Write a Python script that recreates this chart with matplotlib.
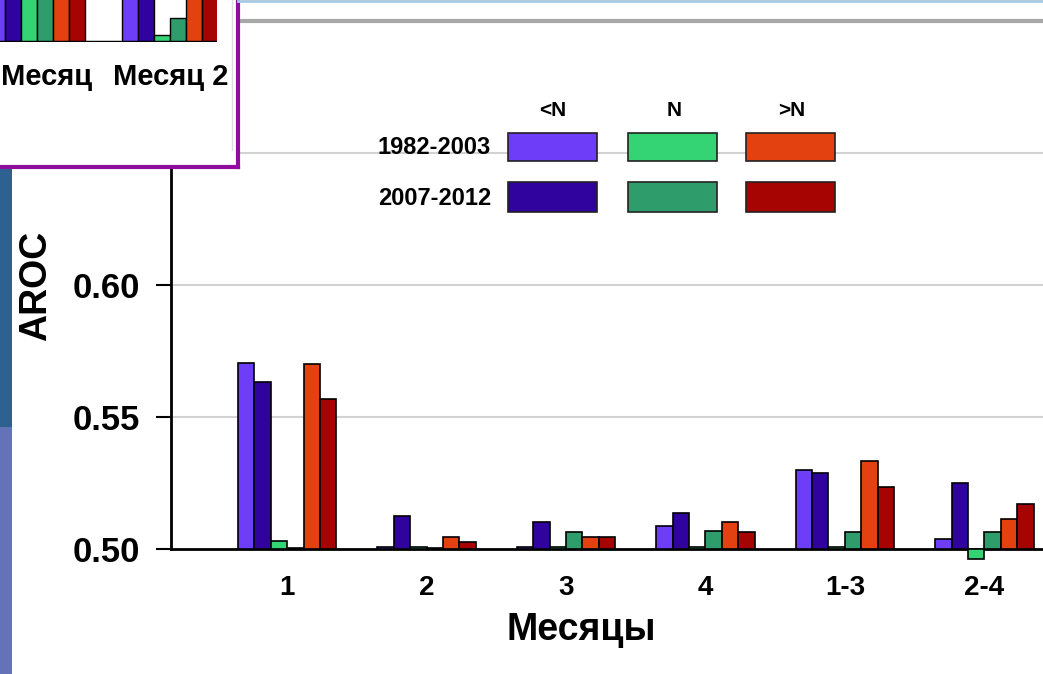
import numpy as np
import matplotlib
matplotlib.use("Agg")
import matplotlib.pyplot as plt
from matplotlib.patches import Rectangle
from matplotlib.lines import Line2D

plt.rcParams['font.family'] = ['Liberation Sans', 'DejaVu Sans']
plt.rcParams['font.weight'] = 'bold'

# data
months = ['1', '2', '3', '4', '1-3', '2-4']
series = ['<N 1982-2003', '<N 2007-2012', 'N 1982-2003', 'N 2007-2012', '>N 1982-2003', '>N 2007-2012']
below_old = [0.5706, 0.5006, 0.5006, 0.5088, 0.5300, 0.5036]
below_new = [0.5632, 0.5124, 0.5104, 0.5136, 0.5288, 0.5250]
norm_old = [0.5032, 0.5006, 0.5006, 0.5006, 0.5006, 0.4962]
norm_new = [0.5003, 0.5003, 0.5064, 0.5070, 0.5064, 0.5064]
above_old = [0.5700, 0.5046, 0.5046, 0.5104, 0.5334, 0.5112]
above_new = [0.5570, 0.5026, 0.5046, 0.5066, 0.5236, 0.5172]
values = [below_old, below_new, norm_old, norm_new, above_old, above_new]
colors = ['#6E3DF8', '#30039E', '#34D475', '#2F9C6C', '#E3410F', '#A60303']

# inset (partly visible second slide chart)
inset_labels = ['Месяц', 'Месяц 2']
inset_values = [[0.70, 0.70, 0.70, 0.70, 0.70, 0.70],
                [0.70, 0.70, 0.517, 0.557, 0.70, 0.70]]

W, H = 1043, 674
fig = plt.figure(figsize=(W / 100, H / 100), dpi=100)
fig.patch.set_facecolor('white')

def fx(px):
    return px / W

def fy(py):
    return 1 - py / H

# main axes: left spine at x=171, baseline at y=549
ax = fig.add_axes([fx(171), fy(549), fx(W) - fx(171), 1 - fy(549)])
ax.set_ylim(0.5, 0.5 + 549 / 2640)
ax.set_xlim(-0.832, 5.42)
x = np.arange(len(months))
bw = 0.118
for i, (vals, c) in enumerate(zip(values, colors)):
    vals = np.array(vals)
    ax.bar(x + (i - 2.5) * bw, vals - 0.5, bottom=0.5, width=bw, color=c,
           edgecolor='black', linewidth=1.2, clip_on=False, zorder=3)

ax.set_yticks([0.50, 0.55, 0.60])
ax.set_yticklabels(['0.50', '0.55', '0.60'])
for g in [0.55, 0.60, 0.65]:
    ax.axhline(g, color='#D2D2D2', linewidth=1.5, zorder=1)
ax.axhline(0.70, color='#A8A8A8', linewidth=3, zorder=1)
ax.set_xticks(x)
ax.set_xticklabels(months)
ax.tick_params(axis='y', labelsize=25, length=11, width=1.5, pad=11)
ax.tick_params(axis='x', labelsize=20, length=0, pad=19)
for s in ['top', 'right']:
    ax.spines[s].set_visible(False)
ax.spines['left'].set_linewidth(2)
ax.spines['bottom'].set_linewidth(2)
ax.set_xlabel('Месяцы', fontsize=27, fontweight='bold')
ax.xaxis.set_label_coords(0.471, -0.115)
fig.text(fx(36), fy(286), 'AROC', rotation=90, fontsize=27, fontweight='bold',
         ha='center', va='center')

# legend drawn as a small table
fig.text(fx(553), fy(110), '<N', fontsize=15, ha='center', va='center')
fig.text(fx(674), fy(110), 'N', fontsize=15, ha='center', va='center')
fig.text(fx(792), fy(110), '>N', fontsize=15, ha='center', va='center')
fig.text(fx(491), fy(147), '1982-2003', fontsize=17, ha='right', va='center')
fig.text(fx(491), fy(199), '2007-2012', fontsize=17, ha='right', va='center')
key_x = [508, 628, 746]
for j in range(3):
    for r, (top, bot) in enumerate([(133, 161), (182, 212)]):
        fig.patches.append(Rectangle((fx(key_x[j]), fy(bot)), fx(89), fy(top) - fy(bot),
                                     transform=fig.transFigure, facecolor=colors[2 * j + r],
                                     edgecolor='#222222', linewidth=1.2))

# top slide line
fig.add_artist(Line2D([fx(238), 1], [fy(1), fy(1)], color='#A9C9E2', linewidth=2))

# inset box
ax_in = fig.add_axes([0, fy(167), fx(238), 1 - fy(167)])
ax_in.set_xticks([])
ax_in.set_yticks([])
ax_in.set_xlim(0, 238)
ax_in.set_ylim(167, 0)
for s in ['top', 'left']:
    ax_in.spines[s].set_visible(False)
for s in ['right', 'bottom']:
    ax_in.spines[s].set_color('#8E0F9E')
    ax_in.spines[s].set_linewidth(3)
ax_in.plot([232, 232], [0, 150], color='#DDDDDD', linewidth=1)
ax_in.text(1, 77, inset_labels[0], fontsize=21, ha='left', va='center')
ax_in.text(171, 77, inset_labels[1], fontsize=21, ha='center', va='center')

ax_b = fig.add_axes([0, fy(42), fx(217), 1 - fy(42)])
ax_b.set_xlim(-0.278, 1.353)
ax_b.set_ylim(0.5, 0.6)
ax_b.axis('off')
xi = np.arange(2)
for i, c in enumerate(colors):
    ax_b.bar(xi + (i - 2.5) * 0.12, np.array([v[i] for v in inset_values]) - 0.5,
             bottom=0.5, width=0.12, color=c, edgecolor='black', linewidth=1)
ax_b.axhline(0.5, color='black', linewidth=2.5)

# left slide strip
fig.patches.append(Rectangle((0, 0), fx(12), fy(427), transform=fig.transFigure,
                             facecolor='#6472BA', edgecolor='none'))
fig.patches.append(Rectangle((0, fy(427)), fx(12), fy(169) - fy(427), transform=fig.transFigure,
                             facecolor='#2C6190', edgecolor='none'))

fig.savefig('out.png', dpi=100)
